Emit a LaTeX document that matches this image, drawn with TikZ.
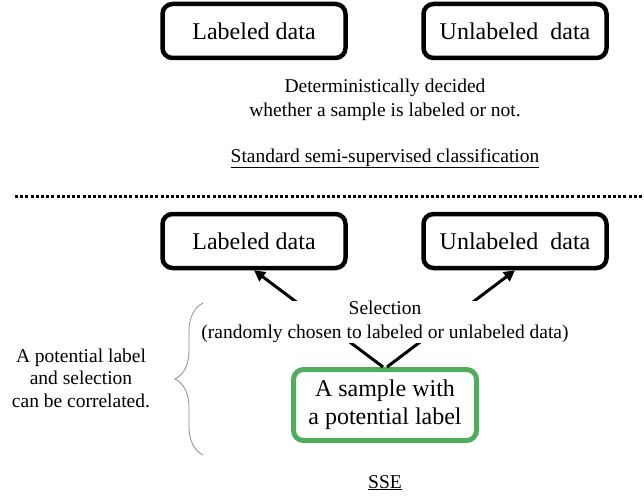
\documentclass[tikz,border=0pt]{standalone}
\usepackage{fontspec}
\setmainfont{Liberation Serif}
\usepackage{tikz}
\usetikzlibrary{arrows.meta, positioning, decorations.pathreplacing}
\definecolor{ssegreen}{HTML}{4FAD5B}
\definecolor{ssegray}{HTML}{8C8C8C}

\begin{document}
\begin{tikzpicture}[
        x=1pt, y=-1pt,
        every node/.style={align=center},
        databox/.style={rectangle, rounded corners=10pt, draw=black, line width=4.5pt,
                        fill=white, minimum width=183pt, minimum height=54pt,
                        font=\fontsize{24}{28}\selectfont},
        samplebox/.style={rectangle, rounded corners=10pt, draw=ssegreen, line width=5pt,
                          fill=white, minimum width=183pt, minimum height=71pt,
                          font=\fontsize{24}{28}\selectfont},
        note/.style={font=\fontsize{19.5}{24}\selectfont, inner sep=0pt},
        ttl/.style={font=\fontsize{19.5}{24}\selectfont, inner sep=0pt, anchor=base},
        selarrow/.style={line width=3pt, -{Triangle[length=11pt, width=11pt]}},
        dotline/.style={line width=3pt, dash pattern=on 3pt off 2.2pt},
        bracel/.style={ssegray, line width=0.8pt,
                       decorate, decoration={brace, amplitude=28pt}}
    ]
        \useasboundingbox (0,0) rectangle (644,497);

        % standard semi-supervised classification
        \node[databox] (lab1) at (254,31) {Labeled data};
        \node[databox] (unl1) at (515,31) {Unlabeled~~data};
        \node[note] (det) at (385,100)
            {Deterministically decided\\whether a sample is labeled or not.};
        \node[ttl] (std) at (385,162) {\underline{Standard semi-supervised classification}};

        % separator
        \coordinate (sepL) at (15,196);
        \coordinate (sepR) at (644,196);
        \draw[dotline] (sepL) -- (sepR);

        % SSE
        \node[databox] (lab2) at (254,241) {Labeled data};
        \node[databox] (unl2) at (515,241) {Unlabeled~~data};
        \node[samplebox] (smp) at (385,405) {A sample with\\a potential label};
        \draw[selarrow] ([xshift=-2pt]smp.north) -- (lab2.south);
        \draw[selarrow] ([xshift=2pt]smp.north) -- (unl2.south);
        \node[note, fill=white, inner ysep=0.5pt] (sel) at (385,322)
            {Selection\\(randomly chosen to labeled or unlabeled data)};

        \coordinate (brTop) at (203,303);
        \coordinate (brBot) at (203,455);
        \draw[bracel] (brBot) -- (brTop);
        \node[note, font=\fontsize{19.5}{22.5}\selectfont] (cor) at (81,378)
            {A potential label\\and selection\\can be correlated.};

        \node[ttl] (sse) at (385,488) {\underline{SSE}};
    \end{tikzpicture}
\end{document}
